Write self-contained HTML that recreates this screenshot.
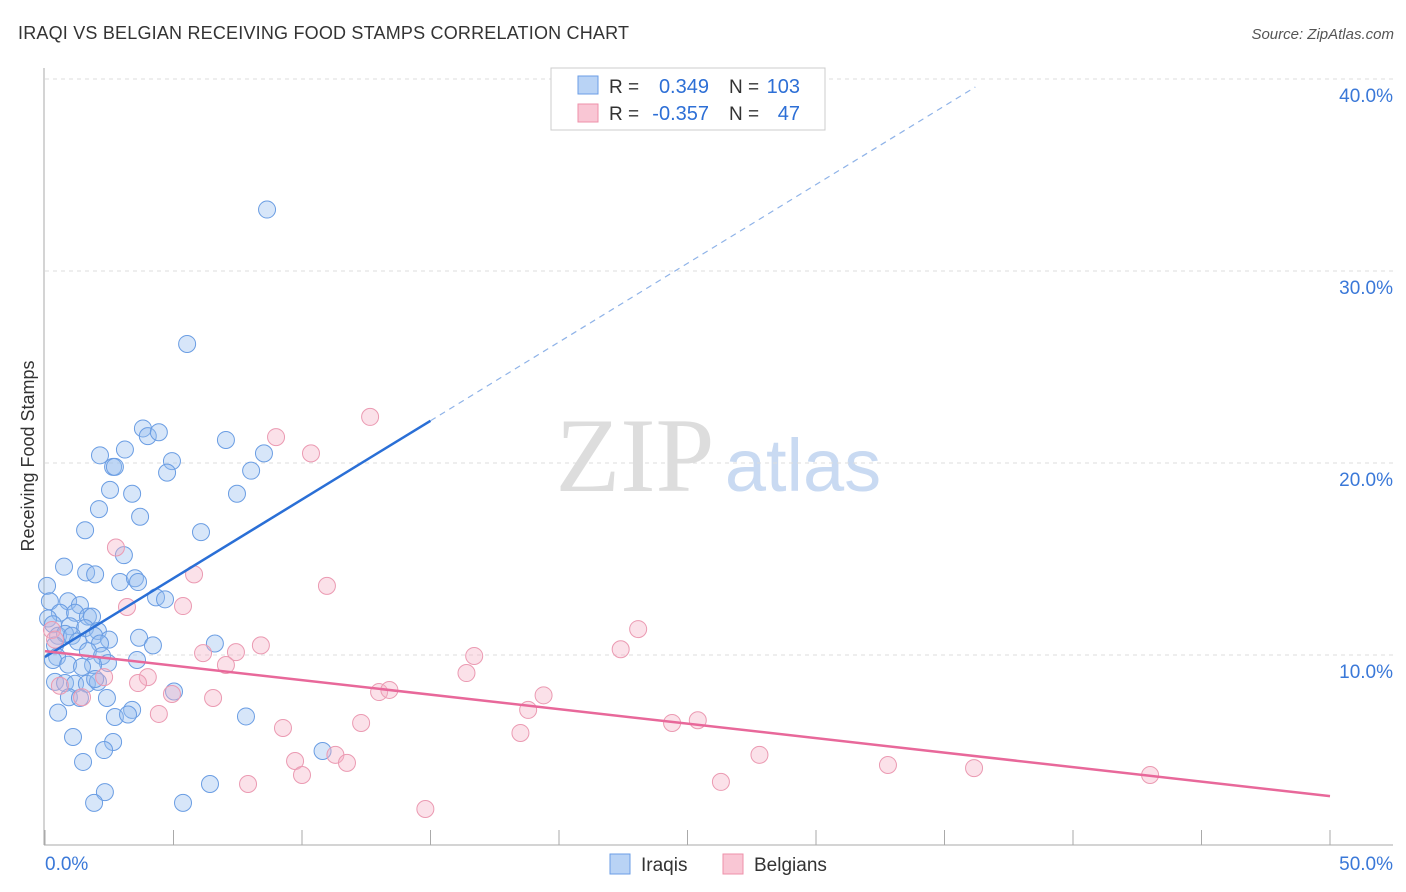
<!DOCTYPE html>
<html><head><meta charset="utf-8"><style>
body{margin:0;background:#fff;font-family:"Liberation Sans",sans-serif}
svg{display:block}
</style></head><body>
<svg width="1406" height="892" xmlns="http://www.w3.org/2000/svg">
<text x="18" y="39" font-size="18" fill="#333" textLength="611">IRAQI VS BELGIAN RECEIVING FOOD STAMPS CORRELATION CHART</text>
<text x="1394" y="39" font-size="15" fill="#555" font-style="italic" text-anchor="end">Source: ZipAtlas.com</text>
<g>
<text x="635" y="491" font-size="106" fill="#ddd" font-family="Liberation Serif" text-anchor="middle">ZIP</text>
<text x="803" y="491" font-size="74" fill="#c9daf2" text-anchor="middle">atlas</text>
</g>
<g id="grid"></g>
<g id="axes"></g>
<g id="pts"></g>
<g id="lines"></g>
<text transform="translate(34,456) rotate(-90)" font-size="18" fill="#333" text-anchor="middle">Receiving Food Stamps</text>
<g>
<rect x="551" y="68" width="274" height="62" fill="#fff" stroke="#ccc"/>
<rect x="578" y="76" width="20" height="18" fill="#b9d3f5" stroke="#6b9ee6"/>
<rect x="578" y="104" width="20" height="18" fill="#f9c6d4" stroke="#ee90aa"/>
<text x="609" y="93" font-size="19" fill="#333">R =</text>
<text x="709" y="93" font-size="20" fill="#2d6fd6" text-anchor="end">0.349</text>
<text x="729" y="93" font-size="19" fill="#333">N =</text>
<text x="800" y="93" font-size="20" fill="#2d6fd6" text-anchor="end">103</text>
<text x="609" y="120" font-size="19" fill="#333">R =</text>
<text x="709" y="120" font-size="20" fill="#2d6fd6" text-anchor="end">-0.357</text>
<text x="729" y="120" font-size="19" fill="#333">N =</text>
<text x="800" y="120" font-size="20" fill="#2d6fd6" text-anchor="end">47</text>
</g>
<g>
<rect x="610" y="854" width="20" height="20" fill="#b9d3f5" stroke="#6b9ee6"/>
<text x="641" y="871" font-size="19" fill="#333">Iraqis</text>
<rect x="723" y="854" width="20" height="20" fill="#f9c6d4" stroke="#ee90aa"/>
<text x="754" y="871" font-size="19" fill="#333">Belgians</text>
</g>
</svg>
<script>
const yTicks=[10,20,30,40];
const yTickLabels=["10.0%","20.0%","30.0%","40.0%"];
const xTicks=[0,5,10,15,20,25,30,35,40,45,50];
const blueX=[8.64,5.53,3.81,4.0,4.43,7.04,3.11,2.14,8.52,4.94,2.65,2.72,4.75,8.02,2.53,3.39,7.47,3.7,2.1,1.56,6.07,3.07,0.74,1.6,1.95,2.92,3.5,3.62,0.08,4.32,4.67,0.19,0.9,1.36,0.58,1.17,1.67,1.83,0.12,0.31,0.97,1.56,2.06,0.51,0.78,1.05,1.91,2.49,3.66,1.28,2.14,0.39,4.2,6.61,1.67,0.47,2.22,3.58,2.45,0.31,0.9,1.87,1.44,0.39,0.78,1.17,1.63,2.06,1.95,5.02,0.93,1.36,2.41,3.39,0.51,2.72,3.23,7.82,1.09,2.65,2.3,10.8,1.48,2.33,6.42,1.91,5.37];
const blueY=[33.2,26.2,21.8,21.4,21.6,21.2,20.7,20.4,20.5,20.1,19.8,19.8,19.5,19.6,18.6,18.4,18.4,17.2,17.6,16.5,16.4,15.2,14.6,14.3,14.2,13.8,14.0,13.8,13.6,13.0,12.9,12.8,12.8,12.6,12.2,12.2,12.0,12.0,11.9,11.6,11.5,11.4,11.25,11.0,11.1,11.0,11.0,10.8,10.9,10.7,10.6,10.5,10.5,10.6,10.2,9.9,9.95,9.74,9.58,9.74,9.5,9.48,9.38,8.6,8.54,8.5,8.5,8.6,8.75,8.1,7.8,7.76,7.76,7.14,7.0,6.77,6.9,6.8,5.73,5.47,5.05,5.0,4.43,2.86,3.28,2.3,2.3];
const pinkX=[12.65,8.99,10.35,2.76,5.8,10.97,3.19,5.37,23.08,8.4,6.15,7.43,22.4,16.7,7.04,16.4,4.0,2.3,3.62,0.58,4.94,13.0,13.4,6.54,19.4,1.44,18.8,4.43,12.3,9.26,24.4,25.4,18.5,11.3,9.73,11.75,27.8,32.8,36.15,10.0,43.0,26.3,7.9,14.8,0.27,0.39];
const pinkY=[22.4,21.35,20.5,15.6,14.2,13.6,12.5,12.55,11.35,10.5,10.1,10.15,10.3,9.95,9.48,9.06,8.85,8.85,8.54,8.4,7.97,8.07,8.18,7.76,7.9,7.8,7.14,6.93,6.46,6.2,6.46,6.6,5.94,4.8,4.48,4.38,4.8,4.27,4.11,3.75,3.75,3.39,3.28,1.98,11.3,10.8];
const blueLine=[9.9,0.82]; // intercept, slope
const pinkLine=[10.2,-0.151];
const X=v=>45+v/50*1285, Y=v=>847-v*19.2;
const NS="http://www.w3.org/2000/svg";
function mk(p,t,a){const e=document.createElementNS(NS,t);for(const k in a)e.setAttribute(k,a[k]);document.getElementById(p).appendChild(e);return e;}
yTicks.forEach((t,i)=>{
 const l=mk('grid','line',{x1:45,x2:1393,y1:Y(t),y2:Y(t),stroke:'#ddd','stroke-dasharray':'4,4'});
 
 
 const tx=mk('grid','text',{x:1393,y:Y(t)+23,'font-size':19,fill:'#3a78d8','text-anchor':'end'});
 tx.textContent=yTickLabels[i];
 
 
});
let a=mk('axes','line',{x1:44,x2:44,y1:68,y2:845,stroke:'#aaa'});


a=mk('axes','line',{x1:44,x2:1393,y1:845,y2:845,stroke:'#aaa'});


xTicks.forEach(t=>{
 const l=mk('axes','line',{x1:X(t),x2:X(t),y1:830,y2:845,stroke:'#aaa'});
 
 
});
let t0=mk('axes','text',{x:45,y:870,'font-size':19,fill:'#3a78d8'});t0.textContent='0.0%';


let t1=mk('axes','text',{x:1393,y:870,'font-size':19,fill:'#3a78d8','text-anchor':'end'});t1.textContent='50.0%';


blueX.forEach((x,i)=>{
 const c=mk('pts','circle',{cx:X(x),cy:Y(blueY[i]),r:8.5,fill:'rgba(150,190,240,0.38)',stroke:'#6a9de3','stroke-width':1});
 
 
});
pinkX.forEach((x,i)=>{
 const c=mk('pts','circle',{cx:X(x),cy:Y(pinkY[i]),r:8.5,fill:'rgba(245,175,198,0.38)',stroke:'#eb9ab2','stroke-width':1});
 
 
});
const bf=x=>blueLine[0]+blueLine[1]*x, pf=x=>pinkLine[0]+pinkLine[1]*x;
let L=mk('lines','line',{x1:X(0),y1:Y(bf(0)),x2:X(15),y2:Y(bf(15)),stroke:'#2a6fd6','stroke-width':2.5});


L=mk('lines','line',{x1:X(15),y1:Y(bf(15)),x2:X(36.2),y2:Y(bf(36.2)),stroke:'#8fb3e8','stroke-width':1.2,'stroke-dasharray':'6,5'});


L=mk('lines','line',{x1:X(0),y1:Y(pf(0)),x2:X(50),y2:Y(pf(50)),stroke:'#e8689a','stroke-width':2.5});


</script>
</body></html>
